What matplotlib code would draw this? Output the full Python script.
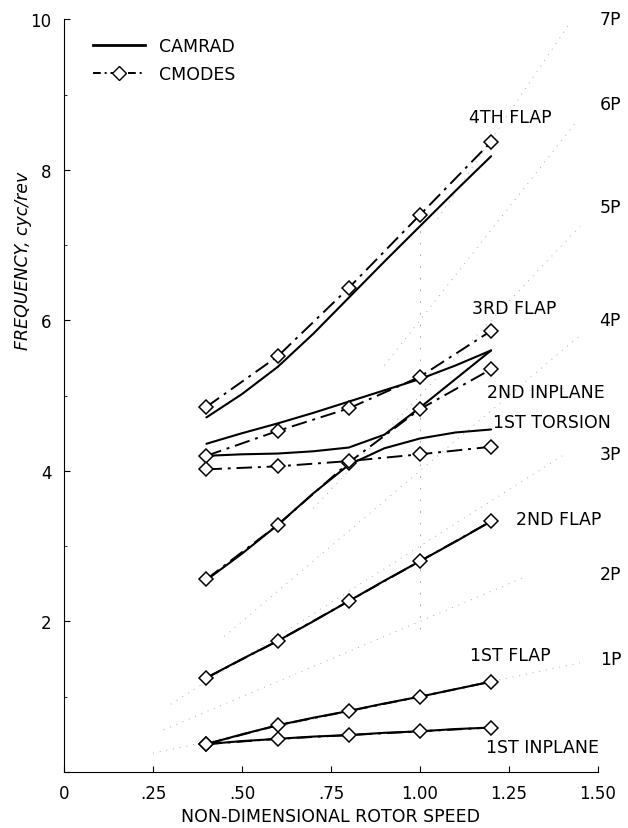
import matplotlib.pyplot as plt
import numpy as np

# rotor speed stations (CMODES points)
speed = [0.4, 0.6, 0.8, 1.0, 1.2]

# CMODES frequencies, cyc/rev
cm_flap1 = [0.37, 0.62, 0.81, 1.00, 1.20]
cm_inplane1 = [0.37, 0.44, 0.49, 0.54, 0.59]
cm_flap2 = [1.25, 1.74, 2.27, 2.80, 3.33]
cm_inplane2 = [2.56, 3.28, 4.11, 4.82, 5.35]
cm_torsion1 = [4.02, 4.06, 4.13, 4.22, 4.32]
cm_flap3 = [4.20, 4.53, 4.83, 5.25, 5.86]
cm_flap4 = [4.85, 5.52, 6.43, 7.40, 8.37]

# CAMRAD curves read at finer speed steps
speed_fine = [0.4, 0.5, 0.6, 0.7, 0.8, 0.9, 1.0, 1.1, 1.2]
ca_flap4 = [4.71, 5.02, 5.38, 5.82, 6.30, 6.78, 7.25, 7.72, 8.18]
ca_flap3 = [4.36, 4.50, 4.63, 4.77, 4.92, 5.07, 5.22, 5.40, 5.60]
ca_inplane2 = [4.20, 4.22, 4.23, 4.26, 4.31, 4.48, 4.84, 5.22, 5.60]
ca_torsion1 = [2.55, 2.90, 3.28, 3.70, 4.08, 4.30, 4.43, 4.51, 4.55]
ca_flap2 = [1.25, 1.50, 1.74, 2.00, 2.27, 2.54, 2.80, 3.06, 3.33]
ca_flap1 = [0.37, 0.50, 0.62, 0.72, 0.81, 0.91, 1.00, 1.10, 1.20]
ca_inplane1 = [0.37, 0.41, 0.44, 0.47, 0.49, 0.52, 0.54, 0.57, 0.59]

# per-rev lines: order, start speed, end speed
per_rev = [1, 2, 3, 4, 5, 6, 7]
per_rev_start = [0.25, 0.28, 0.3, 0.45, 0.7, 0.9, 1.05]
per_rev_end = [1.45, 1.30, 1.40, 1.45, 1.45, 1.44, 1.42]
per_rev_label_y = [1.5, 2.63, 4.22, 6.0, 7.5, 8.87, 10.0]

mode_names = ['4TH FLAP', '3RD FLAP', '2ND INPLANE', '1ST TORSION',
              '2ND FLAP', '1ST FLAP', '1ST INPLANE']
mode_label_x = [1.254, 1.265, 1.355, 1.372, 1.39, 1.254, 1.344]
mode_label_y = [8.7, 6.17, 5.05, 4.65, 3.36, 1.55, 0.33]

fs = 12.5

fig = plt.figure(figsize=(6.28, 8.29), dpi=100)
ax = fig.add_axes([0.102, 0.0676, 0.85, 0.908])

for n, x0, x1, ly in zip(per_rev, per_rev_start, per_rev_end, per_rev_label_y):
    xs = np.array([x0, x1])
    ax.plot(xs, n * xs, color='#aaaaaa', lw=0.7, linestyle=(0, (1, 6)))
    ax.text(1.505, ly, f'{n}P', fontsize=fs, ha='left', va='center')

# faint vertical reference at unit speed
ax.plot([1.0, 1.0], [1.9, 7.3], color='#999999', lw=0.6, linestyle=(0, (2, 12)))

for ys in [ca_flap4, ca_flap3, ca_inplane2, ca_torsion1, ca_flap2, ca_flap1, ca_inplane1]:
    ax.plot(speed_fine, ys, color='black', lw=1.5, solid_capstyle='round')

for ys in [cm_flap4, cm_flap3, cm_inplane2, cm_torsion1, cm_flap2, cm_flap1, cm_inplane1]:
    ax.plot(speed, ys, color='black', lw=1.4, linestyle=(0, (8, 3, 1.5, 3)),
            marker='D', markersize=7, markerfacecolor='white',
            markeredgecolor='black', markeredgewidth=1.1)

for name, lx, ly in zip(mode_names, mode_label_x, mode_label_y):
    ax.text(lx, ly, name, fontsize=fs, ha='center', va='center')

# legend
ax.plot([], [], color='black', lw=2, label='CAMRAD')
ax.plot([], [], color='black', lw=1.4, linestyle=(0, (4, 2, 1, 2)),
        marker='D', markersize=7, markerfacecolor='white',
        markeredgecolor='black', label='CMODES')
ax.legend(loc='upper left', bbox_to_anchor=(0.025, 0.997), frameon=False,
          fontsize=fs, handlelength=3.0, labelspacing=0.55)

ax.set_xlim(0, 1.5)
ax.set_ylim(0, 10)
ax.set_xticks([0, 0.25, 0.5, 0.75, 1.0, 1.25, 1.5])
ax.set_xticklabels(['0', '.25', '.50', '.75', '1.00', '1.25', '1.50'])
ax.set_yticks([0, 2, 4, 6, 8, 10])
ax.set_yticklabels(['', '2', '4', '6', '8', '10'])
ax.set_yticks([1, 3, 5, 7, 9], minor=True)
ax.tick_params(direction='in', length=4, labelsize=fs - 0.5, pad=9)
ax.tick_params(which='minor', direction='in', length=2)
for s in ['top', 'right']:
    ax.spines[s].set_visible(False)

ax.set_xlabel('NON-DIMENSIONAL ROTOR SPEED', fontsize=fs, labelpad=3)
ax.set_ylabel('FREQUENCY, cyc/rev', fontsize=fs, style='italic')
ax.yaxis.set_label_coords(-0.06, 0.68)

plt.savefig('out.png', dpi=100)
